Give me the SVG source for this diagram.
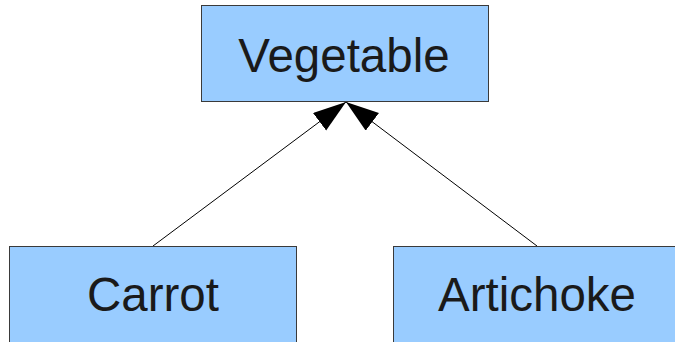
<svg xmlns="http://www.w3.org/2000/svg" width="675" height="342" viewBox="0 0 675 342">
<style>
.box{fill:#99ccff;stroke:#3a3a3a;stroke-width:1}
.lbl{font-family:"Liberation Sans",Arial,sans-serif;font-size:47.5px;fill:#1a1a1a;text-anchor:middle}
.edge{stroke:#000;stroke-width:1;fill:none;marker-end:url(#tri)}
</style>
<defs>
<marker id="tri" markerUnits="userSpaceOnUse" markerWidth="36" markerHeight="24" refX="33" refY="11" orient="auto">
<path d="M0,0 L33,11 L0,22 Z" fill="#000"/>
</marker>
</defs>
<rect width="675" height="342" fill="#fff"/>
<g id="connectors">
<line class="edge" x1="153" y1="246" x2="346" y2="102"/>
<line class="edge" x1="537" y1="246" x2="346" y2="102"/>
</g>
<g id="vegetable">
<rect class="box" x="201.5" y="5.5" width="287" height="96"/>
<text class="lbl" x="344" y="72">Vegetable</text>
</g>
<g id="carrot">
<rect class="box" x="9.5" y="246.5" width="287" height="100"/>
<text class="lbl" x="153" y="311">Carrot</text>
</g>
<g id="artichoke">
<rect class="box" x="393.5" y="246.5" width="287" height="100"/>
<text class="lbl" x="537" y="311">Artichoke</text>
</g>
</svg>
